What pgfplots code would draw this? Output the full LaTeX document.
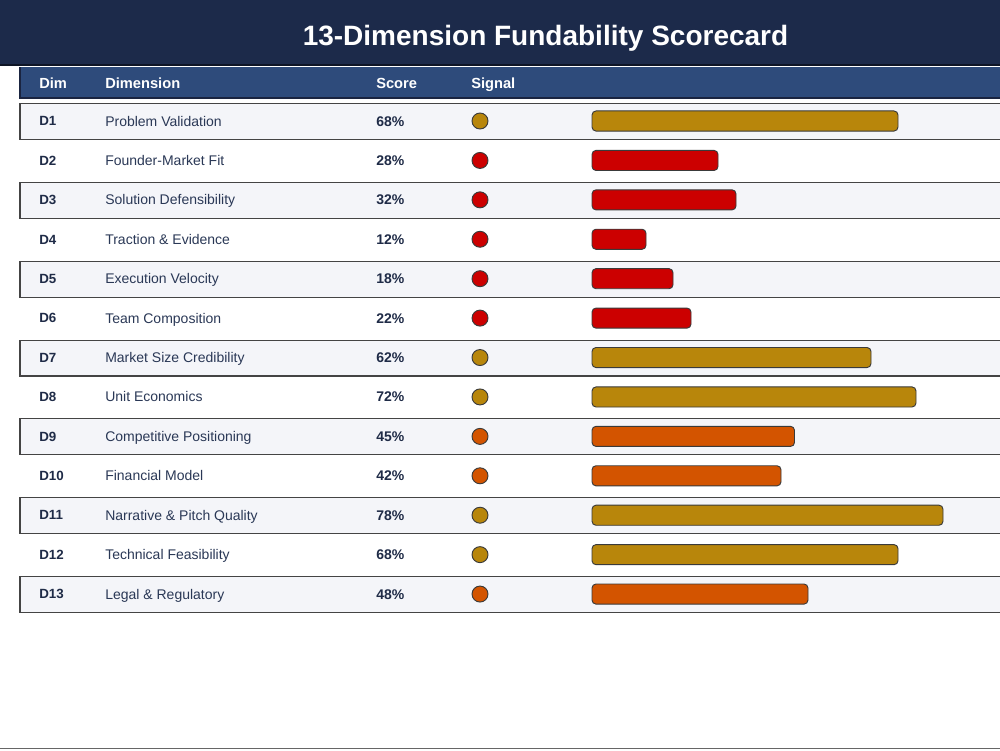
\documentclass[border=0pt]{standalone}
\usepackage{pgfplots}
\pgfplotsset{compat=1.18}
\usepackage{pgfplotstable}
\usepackage{fontspec}
\setmainfont{Liberation Sans}

\definecolor{titlenavy}{HTML}{1C2A4A}
\definecolor{titleline}{HTML}{0E1526}
\definecolor{headblue}{HTML}{2E4B7B}
\definecolor{headline}{HTML}{1A2440}
\definecolor{rowfill}{HTML}{F4F5F9}
\definecolor{rowline}{HTML}{444444}
\definecolor{txt}{HTML}{2A3856}
\definecolor{txtbold}{HTML}{1F2B47}
\definecolor{gold}{HTML}{B8860B}
\definecolor{risk}{HTML}{CC0000}
\definecolor{warn}{HTML}{D35400}
\definecolor{edge}{HTML}{3A3A3A}

% grp: 1 = weak (red), 2 = moderate (orange), 3 = solid (gold)
\pgfplotstableread[col sep=comma]{
row,dim,name,score,grp
1,D1,Problem Validation,68,3
2,D2,Founder-Market Fit,28,1
3,D3,Solution Defensibility,32,1
4,D4,Traction \& Evidence,12,1
5,D5,Execution Velocity,18,1
6,D6,Team Composition,22,1
7,D7,Market Size Credibility,62,3
8,D8,Unit Economics,72,3
9,D9,Competitive Positioning,45,2
10,D10,Financial Model,42,2
11,D11,Narrative \& Pitch Quality,78,3
12,D12,Technical Feasibility,68,3
13,D13,Legal \& Regulatory,48,2
}\scores

\begin{document}
\begin{tikzpicture}
\begin{axis}[
  scale only axis, width=750pt, height=562.5pt,
  xmin=-131.5556, xmax=90.6667,
  ymin=-2.0695, ymax=16.956, y dir=reverse,
  hide axis, clip=false,
]
% page background and title band
\fill[white] (axis cs:-131.5556,-2.0695) rectangle (axis cs:90.6667,16.956);
\fill[titlenavy] (axis cs:-131.5556,-2.0695) rectangle (axis cs:90.6667,-0.4206);
\draw[titleline, line width=1.2pt] (axis cs:-131.5556,-0.4206) -- (axis cs:90.6667,-0.4206);
\node[text=white, anchor=base, yshift=-7.5pt, inner sep=0pt,
  font=\bfseries\fontsize{21}{25}\selectfont]
  at (axis cs:-10.333,-1.1816) {13-Dimension Fundability Scorecard};

% column header band
\fill[headblue] (axis cs:-127.111,-0.3699) rectangle (axis cs:90.6667,0.4165);
\draw[headline, line width=1.3pt] (axis cs:90.6667,0.4165) -- (axis cs:-127.111,0.4165) -- (axis cs:-127.111,-0.3699);
\begin{scope}[every node/.style={text=white, anchor=base west, yshift=-3.94pt,
  inner sep=0pt, font=\bfseries\fontsize{11}{13}\selectfont}]
\node at (axis cs:-122.889,0.036) {Dim};
\node at (axis cs:-108.222,0.036) {Dimension};
\node at (axis cs:-48.0,0.036) {Score};
\node at (axis cs:-26.889,0.036) {Signal};
\end{scope}

% shaded bands on odd rows
\pgfplotsinvokeforeach{1,3,5,7,9,11,13}{
  \fill[rowfill] (axis cs:-127.111,#1-0.444) rectangle (axis cs:90.6667,#1+0.469);
  \draw[rowline, line width=0.8pt] (axis cs:90.6667,#1-0.444) -- (axis cs:-127.111,#1-0.444)
     -- (axis cs:-127.111,#1+0.469) -- (axis cs:90.6667,#1+0.469);
}

% bottom rule
\draw[gray!80!black, line width=0.75pt] (axis cs:-131.5556,16.906) -- (axis cs:90.6667,16.906);

% score bars
\pgfplotsset{scorebar/.style={xbar, bar shift=0pt, bar width=0.51, draw=edge,
  line width=0.7pt, rounded corners=3pt, forget plot}}
\addplot[scorebar, fill=gold] table[x=score, y=row,
  restrict expr to domain={\thisrow{grp}}{3:3}] {\scores};
\addplot[scorebar, fill=warn] table[x=score, y=row,
  restrict expr to domain={\thisrow{grp}}{2:2}] {\scores};
\addplot[scorebar, fill=risk] table[x=score, y=row,
  restrict expr to domain={\thisrow{grp}}{1:1}] {\scores};

% signal dots
\pgfplotsset{signal/.style={only marks, mark=*, mark size=6pt, forget plot}}
\addplot[signal, mark options={fill=gold, draw=edge, line width=0.7pt}]
  table[x expr=-24.889, y=row, restrict expr to domain={\thisrow{grp}}{3:3}] {\scores};
\addplot[signal, mark options={fill=warn, draw=edge, line width=0.7pt}]
  table[x expr=-24.889, y=row, restrict expr to domain={\thisrow{grp}}{2:2}] {\scores};
\addplot[signal, mark options={fill=risk, draw=edge, line width=0.7pt}]
  table[x expr=-24.889, y=row, restrict expr to domain={\thisrow{grp}}{1:1}] {\scores};

% text columns
\addplot[draw=none, mark=none, forget plot, nodes near coords,
  point meta=explicit symbolic,
  every node near coord/.append style={anchor=base west, yshift=-3.58pt,
    inner sep=0pt, text=txtbold, font=\bfseries\fontsize{10}{12}\selectfont}]
  table[x expr=-122.889, y=row, meta=dim] {\scores};
\addplot[draw=none, mark=none, forget plot, nodes near coords,
  point meta=explicit symbolic,
  every node near coord/.append style={anchor=base west, yshift=-3.76pt,
    inner sep=0pt, text=txt, font=\fontsize{10.5}{12}\selectfont}]
  table[x expr=-108.222, y=row, meta=name] {\scores};
\addplot[draw=none, mark=none, forget plot,
  nodes near coords={\pgfmathprintnumber[fixed,precision=0,assume math mode=true]{\pgfplotspointmeta}\%},
  point meta=explicit,
  every node near coord/.append style={anchor=base west, yshift=-3.76pt,
    inner sep=0pt, text=txtbold, font=\bfseries\fontsize{10.5}{12}\selectfont}]
  table[x expr=-48.0, y=row, meta=score] {\scores};
\end{axis}
\pgfresetboundingbox
\path (current axis.south west) rectangle (current axis.north east);
\end{tikzpicture}
\end{document}
